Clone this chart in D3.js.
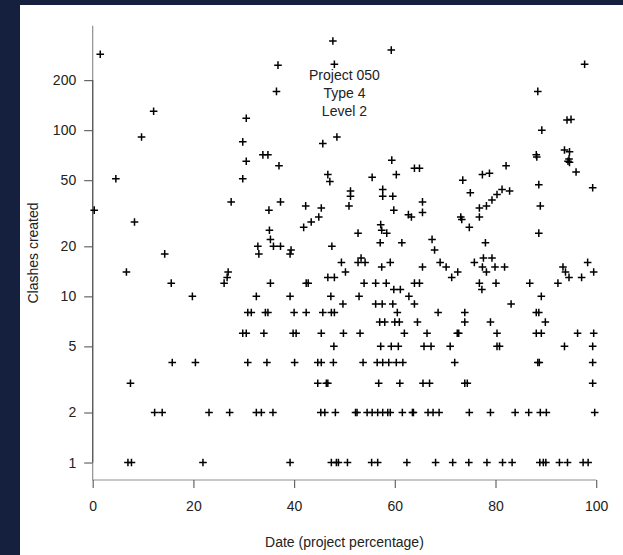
<!DOCTYPE html>
<html>
<head>
<meta charset="utf-8">
<script src="https://cdn.jsdelivr.net/npm/d3@7"></script>
<style>
  html, body { margin: 0; padding: 0; background: #14203d; }
  #chart { width: 623px; height: 555px; }
  text { font-family: "Liberation Sans", Arial, sans-serif; fill: #222; }
</style>
</head>
<body>
<div id="chart"></div>
<script>
// Clash counts against project date (percentage)
var datePct = [
  1.5, 36.8, 36.5, 12.1, 30.5, 9.7, 29.8, 33.8, 34.8, 30.5, 37.0, 4.6, 29.8, 27.5, 35.0, 37.3,
  42.3, 45.4, 47.7, 48.0, 45.7, 48.5, 46.7, 47.1, 0.3, 44.9, 8.3, 59.3, 97.7, 88.4, 94.2, 95.0,
  89.2, 88.1, 88.2, 93.7, 94.7, 94.6, 94.4, 94.7, 96.0, 99.3, 88.6, 88.9, 59.4, 60.3, 55.5, 63.9,
  64.9, 51.2, 51.2, 50.9, 57.6, 57.6, 59.6, 59.8, 62.7, 63.3, 65.5, 65.5, 73.5, 75.0, 77.4, 78.8,
  82.1, 82.8, 81.3, 80.3, 79.3, 78.2, 76.8,
  43.4, 41.9, 35.1, 35.3, 32.8, 33.0, 35.9, 37.3, 39.4, 39.2, 47.5, 14.3, 6.7, 26.9, 26.7, 26.1,
  15.6, 35.3, 42.4, 42.8, 46.7, 48.0, 19.8, 32.5, 39.2, 47.3,
  30.8, 31.5, 34.3, 34.8, 40.0, 42.4, 45.7, 47.4, 48.0,
  29.8, 30.5, 34.0, 39.8, 40.4, 45.4,
  47.9,
  15.8, 20.4, 30.8, 34.6, 40.1, 44.7, 45.4, 47.8,
  7.5, 44.7, 46.4, 46.7,
  12.3, 13.8, 23.1, 27.2, 32.5, 33.5, 35.8, 45.3, 46.1, 48.2,
  7.0, 7.7, 21.9, 39.2, 47.4, 48.4, 48.8, 50.6, 55.4, 56.6, 62.4, 68.1, 71.5, 74.7, 78.3, 81.4,
  83.3, 88.8, 89.5, 90.0, 92.7, 94.3, 97.4, 98.4,
  73.1, 73.3, 76.8, 74.8, 88.6, 57.2, 57.4, 58.4, 52.7, 57.1, 61.4, 67.4, 67.9, 78.0, 49.4, 50.2,
  52.7, 53.3, 54.1, 57.4, 59.1, 65.5, 69.0, 70.2, 72.5, 71.3, 75.8, 77.6, 79.3, 77.4, 78.2, 79.9,
  81.8, 76.8, 77.3, 80.1, 86.8, 92.4, 93.4, 93.9, 94.6, 97.1, 98.3, 99.5,
  53.9, 56.2, 58.3, 63.9, 64.9,
  59.8, 61.1,
  62.8, 52.9, 89.1,
  63.9, 49.7, 56.2, 57.5, 59.6, 83.1,
  60.5, 68.6, 73.9, 88.1, 88.6,
  57.0, 58.0, 60.0, 60.9, 64.5, 73.9, 79.0, 89.9,
  49.8, 53.1, 61.9, 66.4, 72.4, 72.7, 80.3, 88.1, 89.1, 96.3, 99.5,
  57.2, 59.3, 60.7, 65.8, 67.2, 71.0, 80.3, 80.8, 93.7, 99.3,
  53.7, 56.5, 57.6, 58.8, 60.3, 61.6, 71.9, 88.4, 88.7, 99.3,
  56.8, 61.0, 65.6, 66.9, 73.9, 74.4, 99.3,
  52.2, 52.5, 54.5, 55.5, 56.6, 57.6, 58.6, 59.1, 61.5, 63.5, 63.7, 66.6, 67.6, 68.8, 74.8, 79.0,
  83.9, 86.6, 88.9, 90.1, 99.7
];
var clashes = [
  286, 246, 171, 130, 118, 91, 85, 71, 71, 65, 61, 51, 51, 37, 33, 37,
  35, 34, 344, 249, 83, 91, 54, 49, 33, 30, 28, 303, 249, 171, 115, 116,
  100, 71, 69, 76, 74, 67, 65, 64, 56, 45, 47, 35, 66, 54, 52, 59,
  59, 43, 40, 35, 44, 40, 40, 33, 31, 30, 37, 32, 50, 42, 54, 55,
  61, 43, 44, 41, 38, 35, 34,
  28, 26, 25, 22, 20, 18, 20, 20, 19, 18, 20, 18, 14, 14, 13, 12,
  12, 12, 12, 12, 13, 13, 10, 10, 10, 10,
  8, 8, 8, 8, 8, 8, 8, 8, 8,
  6, 6, 6, 6, 6, 6,
  5,
  4, 4, 4, 4, 4, 4, 4, 4,
  3, 3, 3, 3,
  2, 2, 2, 2, 2, 2, 2, 2, 2, 2,
  1, 1, 1, 1, 1, 1, 1, 1, 1, 1, 1, 1, 1, 1, 1, 1,
  1, 1, 1, 1, 1, 1, 1, 1,
  30, 29, 30, 26, 24, 27, 25, 24, 24, 21, 21, 22, 19, 21, 16, 14,
  16, 17, 16, 15, 16, 15, 16, 15, 14, 13, 16, 17, 17, 15, 14, 15,
  15, 12, 11, 12, 12, 12, 15, 14, 13, 13, 16, 14,
  12, 12, 12, 12, 12,
  11, 11,
  10, 10, 10,
  9, 9, 9, 9, 9, 9,
  8, 8, 8, 8, 8,
  7, 7, 7, 7, 7, 7, 7, 7,
  6, 6, 6, 6, 6, 6, 6, 6, 6, 6, 6,
  5, 5, 5, 5, 5, 5, 5, 5, 5, 5,
  4, 4, 4, 4, 4, 4, 4, 4, 4, 4,
  3, 3, 3, 3, 3, 3, 3,
  2, 2, 2, 2, 2, 2, 2, 2, 2, 2, 2, 2, 2, 2, 2, 2,
  2, 2, 2, 2, 2
];

var xTicks = [0, 20, 40, 60, 80, 100];
var yTicks = [1, 2, 5, 10, 20, 50, 100, 200];
var noteLines = ["Project 050", "Type 4", "Level 2"];
var xTitle = "Date (project percentage)";
var yTitle = "Clashes created";

var width = 623, height = 555;

var svg = d3.select("#chart")
  .append("svg")
  .attr("width", width)
  .attr("height", height);

// white panel on the dark page
svg.append("rect")
  .attr("x", 20)
  .attr("y", 5)
  .attr("width", width - 20)
  .attr("height", height - 5)
  .attr("fill", "#ffffff");

var x = d3.scaleLinear().domain([0, 100]).range([92.7, 596.2]);
var y = d3.scaleLog().domain([0.785, 425]).range([480, 25.7]);

// L shaped box (left and bottom)
svg.append("path")
  .attr("d", "M" + x(0) + "," + y.range()[1] + "V" + y.range()[0] + "H" + x(100))
  .attr("fill", "none")
  .attr("stroke", "#909090")
  .attr("stroke-width", 1.2);

// y axis
var yAxis = svg.append("g")
  .attr("transform", "translate(" + x(0) + ",0)")
  .call(d3.axisLeft(y).tickValues(yTicks).tickFormat(d3.format("d")).tickSize(8.5).tickPadding(8));
yAxis.select(".domain").remove();
yAxis.append("line")
  .attr("y1", y(200))
  .attr("y2", y(1))
  .attr("stroke", "#555")
  .attr("stroke-width", 1.2);

// x axis
var xAxis = svg.append("g")
  .attr("transform", "translate(0," + y.range()[0] + ")")
  .call(d3.axisBottom(x).tickValues(xTicks).tickSize(8).tickPadding(13));
xAxis.select(".domain").remove();

svg.selectAll(".tick line").attr("stroke", "#666").attr("stroke-width", 1.2);
svg.selectAll(".tick text")
  .style("font-size", "14px")
  .attr("fill", "#222");

// titles
svg.append("text")
  .attr("x", (x(0) + x(100)) / 2)
  .attr("y", 546.5)
  .attr("text-anchor", "middle")
  .style("font-size", "14px")
  .text(xTitle);

svg.append("text")
  .attr("transform", "translate(38,253) rotate(-90)")
  .attr("text-anchor", "middle")
  .style("font-size", "14px")
  .text(yTitle);

// annotation
svg.append("g")
  .selectAll("text")
  .data(noteLines)
  .enter()
  .append("text")
  .attr("x", x(50))
  .attr("y", function (d, i) { return 80 + i * 17.8; })
  .attr("text-anchor", "middle")
  .style("font-size", "14px")
  .text(function (d) { return d; });

// "+" markers
var points = datePct.map(function (d, i) { return { x: d, y: clashes[i] }; });
var arm = 3.8;
svg.append("g")
  .selectAll("path")
  .data(points)
  .enter()
  .append("path")
  .attr("d", function (d) {
    var cx = x(d.x), cy = y(d.y);
    return "M" + (cx - arm) + "," + cy + "H" + (cx + arm) +
      "M" + cx + "," + (cy - arm) + "V" + (cy + arm);
  })
  .attr("stroke", "#000")
  .attr("stroke-width", 1.5)
  .attr("fill", "none");
</script>
</body>
</html>
